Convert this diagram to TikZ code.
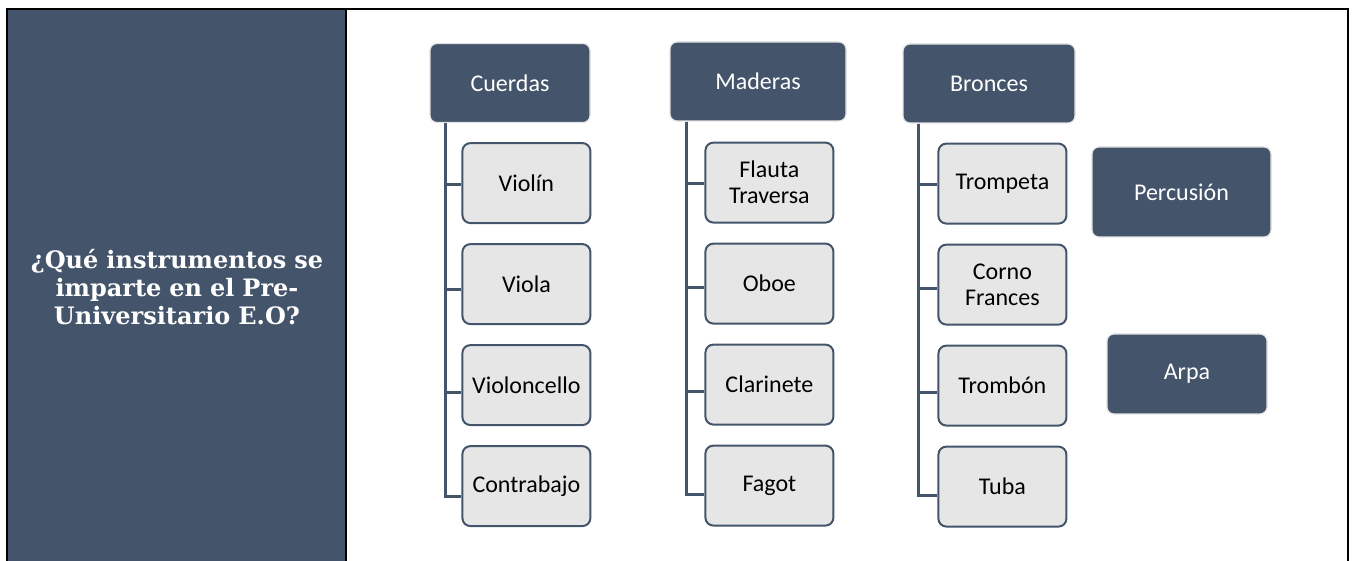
\documentclass[tikz,border=0pt]{standalone}
\usepackage{fontspec}
\setmainfont{Carlito}
\newfontfamily\titlefont{DejaVu Serif}
\usepackage{xcolor}
\usepackage{tikz}
\usetikzlibrary{positioning}
\definecolor{slate}{HTML}{44546A}
\definecolor{leafgray}{HTML}{E7E6E6}
\definecolor{rimgray}{HTML}{E3E3E3}
\tikzstyle{header} = [rectangle, draw=rimgray, line width=1.2pt, fill=slate, text=white,
    rounded corners=7pt, minimum height=79pt, inner sep=0pt, font=\fontsize{24}{26}\selectfont]
\tikzstyle{leaf} = [rectangle, draw=slate, line width=2pt, fill=leafgray, text=black,
    text width=122pt, align=center, rounded corners=8pt, minimum height=80pt, minimum width=128pt,
    inner sep=0pt, font=\fontsize{24}{26}\selectfont]
\tikzstyle{title} = [text=white, text width=330pt, align=center,
    font=\titlefont\bfseries\fontsize{24}{28}\selectfont]
\tikzstyle{line} = [draw=slate, line width=3pt]
\tikzstyle{frame} = [draw=black, line width=2.5pt]

\begin{document}
\begin{tikzpicture}[x=1pt, y=1pt, node distance=19pt]
    \useasboundingbox (0,0) rectangle (1352,560);
    % Frame and question panel
    \fill [slate] (7,-5) rectangle (346,551);
    \path [frame] (7,-5) -- (7,551) -- (1348,551) -- (1348,-5);
    \path [frame] (346,551) -- (346,-5);
    \node [title] (question) at (177,273) {¿Qué instrumentos se\\imparte en el Pre-\\Universitario E.O?};

    % Place nodes
    \node [header, minimum width=160pt] (cuerdas) at (510,477) {Cuerdas};
    \node [leaf, below right=19pt and 32pt of cuerdas.south west] (violin) {Violín};
    \node [leaf, below=of violin] (viola) {Viola};
    \node [leaf, below=of viola] (violoncello) {Violoncello};
    \node [leaf, below=of violoncello] (contrabajo) {Contrabajo};

    \node [header, minimum width=176pt] (maderas) at (758,478.5) {Maderas};
    \node [leaf, below right=20pt and 35pt of maderas.south west] (flauta) {Flauta\\Traversa};
    \node [leaf, below=of flauta] (oboe) {Oboe};
    \node [leaf, below=of oboe] (clarinete) {Clarinete};
    \node [leaf, below=of clarinete] (fagot) {Fagot};

    \node [header, minimum width=172pt] (bronces) at (989,476.5) {Bronces};
    \node [leaf, below right=19pt and 35pt of bronces.south west] (trompeta) {Trompeta};
    \node [leaf, below=of trompeta] (corno) {Corno\\Frances};
    \node [leaf, below=of corno] (trombon) {Trombón};
    \node [leaf, below=of trombon] (tuba) {Tuba};

    \node [header, minimum width=179pt, minimum height=90pt] (percusion) at (1181.5,368) {Percusión};
    \node [header, minimum width=160pt, minimum height=80pt] (arpa) at (1187,186) {Arpa};

    % Draw edges
    \coordinate (cuerdastrunk) at ([xshift=16pt]cuerdas.south west);
    \coordinate (maderastrunk) at ([xshift=17pt]maderas.south west);
    \coordinate (broncestrunk) at ([xshift=16pt]bronces.south west);

    \path [line] (cuerdastrunk) |- ([yshift=-1pt]violin.west);
    \path [line] (cuerdastrunk) |- ([yshift=-5pt]viola.west);
    \path [line] (cuerdastrunk) |- ([yshift=-7pt]violoncello.west);
    \path [line] (cuerdastrunk) |- ([yshift=-10pt]contrabajo.west);

    \path [line] (maderastrunk) |- ([yshift=-1pt]flauta.west);
    \path [line] (maderastrunk) |- ([yshift=-4pt]oboe.west);
    \path [line] (maderastrunk) |- ([yshift=-7pt]clarinete.west);
    \path [line] (maderastrunk) |- ([yshift=-9pt]fagot.west);

    \path [line] (broncestrunk) |- ([yshift=-1pt]trompeta.west);
    \path [line] (broncestrunk) |- ([yshift=-4pt]corno.west);
    \path [line] (broncestrunk) |- ([yshift=-7pt]trombon.west);
    \path [line] (broncestrunk) |- ([yshift=-9pt]tuba.west);
\end{tikzpicture}
\end{document}
